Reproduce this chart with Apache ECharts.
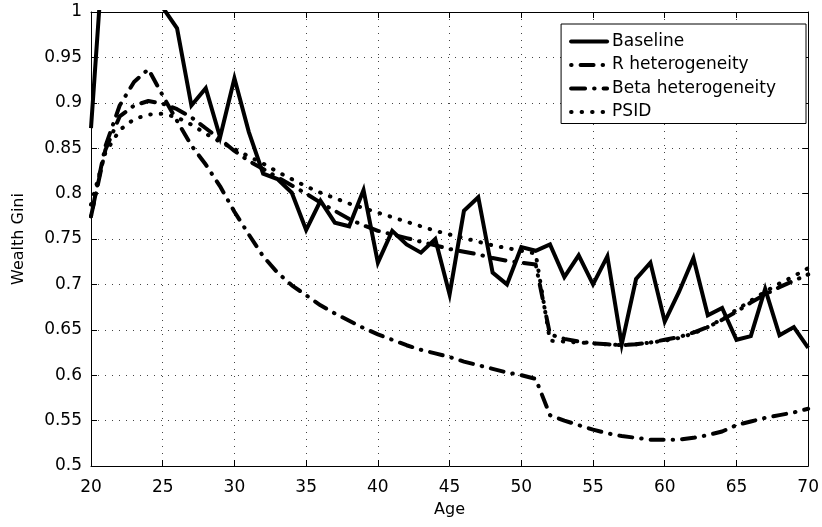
<!DOCTYPE html>
<html><head><meta charset="utf-8">
<script src="https://cdn.jsdelivr.net/npm/echarts@6/dist/echarts.min.js"></script>
<style>html,body{margin:0;padding:0;background:#fff}#c{width:822px;height:527px}</style>
</head><body><div id="c"></div>
<script>
const ages = [20,21,22,23,24,25,26,27,28,29,30,31,32,33,34,35,36,37,38,39,40,41,42,43,44,45,46,47,48,49,50,51,52,53,54,55,56,57,58,59,60,61,62,63,64,65,66,67,68,69,70];
const baseline = [0.872,1.10,1.12,1.10,1.06,1.005,0.982,0.897,0.916,0.862,0.927,0.868,0.822,0.816,0.801,0.760,0.792,0.768,0.764,0.804,0.724,0.759,0.744,0.735,0.750,0.689,0.781,0.796,0.713,0.700,0.741,0.737,0.744,0.708,0.732,0.700,0.731,0.634,0.706,0.724,0.659,0.692,0.729,0.666,0.674,0.639,0.643,0.695,0.644,0.653,0.630];
const rHet = [0.775,0.852,0.897,0.923,0.937,0.908,0.880,0.853,0.832,0.808,0.780,0.755,0.731,0.713,0.699,0.688,0.677,0.668,0.660,0.652,0.645,0.639,0.633,0.628,0.624,0.620,0.615,0.611,0.607,0.603,0.600,0.596,0.556,0.550,0.545,0.540,0.536,0.533,0.531,0.529,0.529,0.529,0.531,0.534,0.538,0.545,0.549,0.553,0.556,0.559,0.563];
const betaHet = [0.775,0.848,0.885,0.897,0.902,0.899,0.893,0.884,0.872,0.860,0.847,0.836,0.827,0.818,0.809,0.800,0.790,0.781,0.772,0.765,0.759,0.755,0.751,0.747,0.743,0.739,0.736,0.733,0.729,0.726,0.724,0.722,0.645,0.640,0.637,0.635,0.634,0.633,0.634,0.636,0.639,0.642,0.647,0.653,0.661,0.670,0.680,0.689,0.697,0.704,0.711];
const psid = [0.788,0.845,0.870,0.882,0.887,0.888,0.884,0.876,0.866,0.857,0.849,0.841,0.833,0.824,0.816,0.808,0.801,0.795,0.789,0.784,0.779,0.774,0.769,0.764,0.759,0.755,0.751,0.747,0.743,0.740,0.737,0.734,0.638,0.637,0.636,0.635,0.634,0.633,0.634,0.636,0.638,0.641,0.646,0.653,0.662,0.672,0.682,0.692,0.701,0.709,0.718];
const seriesNames = ['Baseline','R heterogeneity','Beta heterogeneity','PSID'];
const xTicks = {min:20, max:70, interval:5};
const yTicks = {min:0.5, max:1, interval:0.05};

const FONT = 'DejaVu Sans';
const pair = arr => ages.map((a,i)=>[a, arr[i]]);
const dashes = ['solid', [0.5,9,13,9], [14,9,0.5,9], [0.5,10]];
const values = [baseline, rHet, betaHet, psid];

const chart = echarts.init(document.getElementById('c'), null, {renderer:'canvas'});
const gridLine = {show:true, lineStyle:{color:'#444', type:[1,6], width:1}};
chart.setOption({
  animation:false,
  backgroundColor:'#fff',
  grid:{left:91, right:12, top:12, bottom:61, containLabel:false},
  xAxis:[{
    type:'value', min:xTicks.min, max:xTicks.max, interval:xTicks.interval, position:'bottom',
    name:'Age', nameLocation:'middle', nameGap:36,
    nameTextStyle:{color:'#000', fontFamily:FONT, fontSize:16},
    axisLine:{show:true, lineStyle:{color:'#000', width:1}},
    axisTick:{show:true, inside:true, length:6, lineStyle:{color:'#000'}},
    axisLabel:{color:'#000', fontFamily:FONT, fontSize:17, margin:13},
    splitLine:gridLine
  },{
    type:'value', min:xTicks.min, max:xTicks.max, interval:xTicks.interval, position:'top',
    axisLine:{show:true, onZero:false, lineStyle:{color:'#000', width:1}},
    axisTick:{show:true, inside:true, length:6, lineStyle:{color:'#000'}},
    axisLabel:{show:false}, splitLine:{show:false}
  }],
  yAxis:[{
    type:'value', min:yTicks.min, max:yTicks.max, interval:yTicks.interval, position:'left',
    name:'Wealth Gini', nameLocation:'middle', nameGap:64,
    nameTextStyle:{color:'#000', fontFamily:FONT, fontSize:16},
    axisLine:{show:true, onZero:false, lineStyle:{color:'#000', width:1}},
    axisTick:{show:true, inside:true, length:6, lineStyle:{color:'#000'}},
    axisLabel:{color:'#000', fontFamily:FONT, fontSize:17, margin:9},
    splitLine:gridLine
  },{
    type:'value', min:yTicks.min, max:yTicks.max, interval:yTicks.interval, position:'right',
    axisLine:{show:true, onZero:false, lineStyle:{color:'#000', width:1}},
    axisTick:{show:true, inside:true, length:6, lineStyle:{color:'#000'}},
    axisLabel:{show:false}, splitLine:{show:false}
  }],
  legend:{
    orient:'vertical', top:24, right:16,
    data:seriesNames,
    itemWidth:36, itemHeight:14, itemGap:6.5,
    padding:[9,30,3,8],
    backgroundColor:'#fff', borderColor:'#000', borderWidth:1,
    textStyle:{color:'#000', fontFamily:FONT, fontSize:17},
    lineStyle:{width:4, cap:'round'},
    itemStyle:{opacity:0}
  },
  series: seriesNames.map((n,i)=>({
    name:n, type:'line', xAxisIndex:0, yAxisIndex:0,
    data:pair(values[i]), symbol:'none', showSymbol:false, clip:true,
    lineStyle:{color:'#000', width:4, type:dashes[i], cap: i===0?'butt':'round', join: i===0?'miter':'round'},
    itemStyle:{color:'#000'},
    z: 4-i
  }))
});
</script></body></html>
